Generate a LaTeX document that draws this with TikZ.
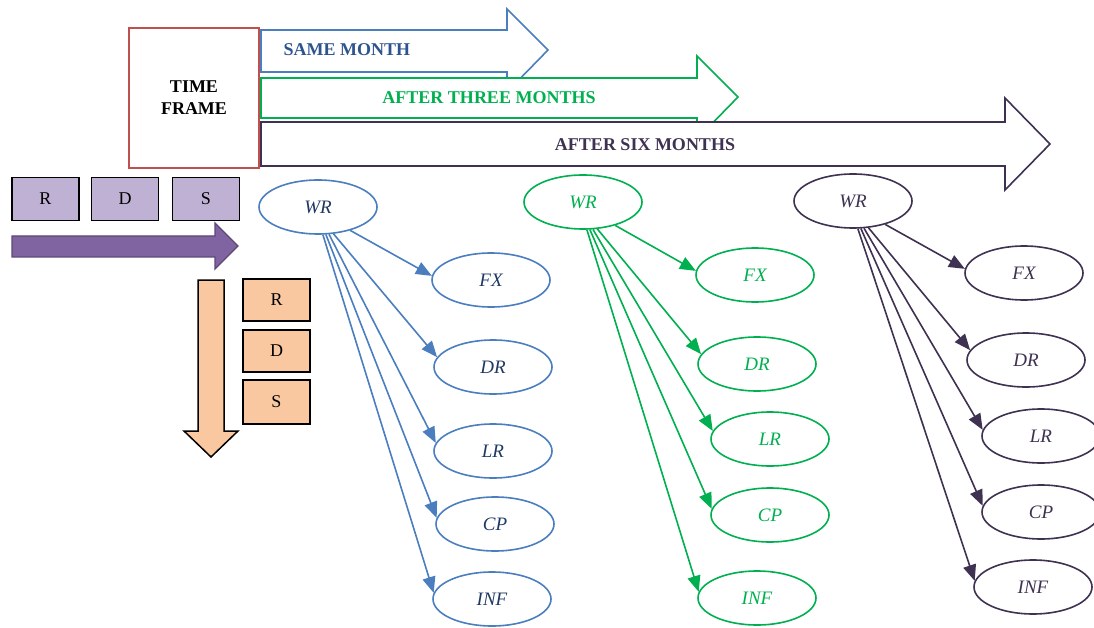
\documentclass[tikz,border=0pt]{standalone}
\usepackage{fontspec}
\setmainfont{Liberation Serif}
\usetikzlibrary{arrows.meta,shapes.geometric}
\definecolor{redB}{HTML}{C0504D}
\definecolor{blueC}{HTML}{4A7EBF}
\definecolor{blueT}{HTML}{2E5490}
\definecolor{blueE}{HTML}{1F3864}
\definecolor{greenC}{HTML}{00B050}
\definecolor{darkP}{HTML}{3F3151}
\definecolor{lavF}{HTML}{BFB1D4}
\definecolor{purF}{HTML}{8064A2}
\definecolor{purB}{HTML}{5C4776}
\definecolor{oraF}{HTML}{FAC8A0}
\begin{document}
\begin{tikzpicture}[x=1pt,y=-1pt,
  bigarrow/.style={line width=1.6pt,fill=white,line join=miter},
  bigtext/.style={font=\fontsize{18}{18}\selectfont\bfseries},
  ell/.style={ellipse,draw,line width=1.6pt,minimum width=118pt,minimum height=54pt,inner sep=0pt,font=\fontsize{19}{19}\selectfont\itshape},
  conn/.style={line width=1.6pt,-{Triangle[length=16pt,width=13pt]}},
  sbox/.style={draw=black,line width=1.8pt,minimum width=68pt,minimum height=43pt,inner sep=0pt,font=\fontsize{18}{18}\selectfont}]
\useasboundingbox (0,0) rectangle (1094,628);
% time frame
\node[draw=redB,line width=1.5pt,minimum width=130pt,minimum height=140pt,align=center,font=\fontsize{18}{22}\selectfont\bfseries] (tf) at (194,98) {TIME\\FRAME};
% big arrows
\draw[bigarrow,draw=blueC] (261,30) -- (507,30) -- (507,9) -- (548,50) -- (507,92) -- (507,72) -- (261,72) -- cycle;
\node[bigtext,text=blueT,anchor=west] (sm) at (280,50) {SAME MONTH};
\draw[bigarrow,draw=greenC] (261,78) -- (697,78) -- (697,56) -- (738,97) -- (697,139) -- (697,118) -- (261,118) -- cycle;
\node[bigtext,text=greenC] (tm) at (489,98) {AFTER THREE MONTHS};
\draw[bigarrow,draw=darkP] (261,122) -- (1005,122) -- (1005,98) -- (1050,144) -- (1005,190) -- (1005,166) -- (261,166) -- cycle;
\node[bigtext,text=darkP] (sx) at (645,145) {AFTER SIX MONTHS};
% purple boxes and arrow
\node[sbox,fill=lavF,minimum width=67pt] (pR) at (45.5,199) {R};
\node[sbox,fill=lavF,minimum width=67pt] (pD) at (125,199) {D};
\node[sbox,fill=lavF,minimum width=67pt] (pS) at (206,199) {S};
\draw[fill=purF,draw=purB,line width=1.4pt] (12,236) -- (215,236) -- (215,223) -- (238,246) -- (215,269) -- (215,257) -- (12,257) -- cycle;
% orange arrow and boxes
\draw[fill=oraF,draw=black,line width=1.5pt] (198,280) -- (224,280) -- (224,431) -- (238,431) -- (211,457) -- (184,431) -- (198,431) -- cycle;
\node[sbox,fill=oraF,minimum width=67pt,minimum height=42pt] (oR) at (276.5,300) {R};
\node[sbox,fill=oraF,minimum width=67pt,minimum height=42pt] (oD) at (276.5,351) {D};
\node[sbox,fill=oraF,minimum width=67pt,minimum height=44pt] (oS) at (276.5,402) {S};
% blue column
\begin{scope}[every node/.style={ell,draw=blueC,text=blueE}]
\node (bWR) at (318,207) {WR};
\node (bFX) at (491,280) {FX};
\node (bDR) at (493,367) {DR};
\node (bLR) at (493,451) {LR};
\node (bCP) at (495,524) {CP};
\node (bINF) at (492,599) {INF};
\end{scope}
\begin{scope}[conn,blueC]
\draw (bWR.-36) -- (bFX.176);
\draw (bWR.-60) -- (bDR.170);
\draw (bWR.-68) -- (bLR.172);
\draw (bWR.-74) -- (bCP.174);
\draw (bWR.-80) -- (bINF.174);
\end{scope}
% green column
\begin{scope}[every node/.style={ell,draw=greenC,text=greenC}]
\node (gWR) at (583,202) {WR};
\node (gFX) at (755,275) {FX};
\node (gDR) at (757,364) {DR};
\node (gLR) at (770,439) {LR};
\node (gCP) at (770,515) {CP};
\node (gINF) at (757,598) {INF};
\end{scope}
\begin{scope}[conn,greenC]
\draw (gWR.-36) -- (gFX.176);
\draw (gWR.-62) -- (gDR.170);
\draw (gWR.-70) -- (gLR.172);
\draw (gWR.-76) -- (gCP.174);
\draw (gWR.-82) -- (gINF.174);
\end{scope}
% dark column
\begin{scope}[every node/.style={ell,draw=darkP,text=darkP}]
\node (dWR) at (853,201) {WR};
\node (dFX) at (1024,273) {FX};
\node (dDR) at (1026,360) {DR};
\node (dLR) at (1041,436) {LR};
\node (dCP) at (1041,512) {CP};
\node (dINF) at (1033,587) {INF};
\end{scope}
\begin{scope}[conn,darkP]
\draw (dWR.-36) -- (dFX.176);
\draw (dWR.-60) -- (dDR.170);
\draw (dWR.-68) -- (dLR.174);
\draw (dWR.-74) -- (dCP.174);
\draw (dWR.-80) -- (dINF.174);
\end{scope}
\end{tikzpicture}
\end{document}
